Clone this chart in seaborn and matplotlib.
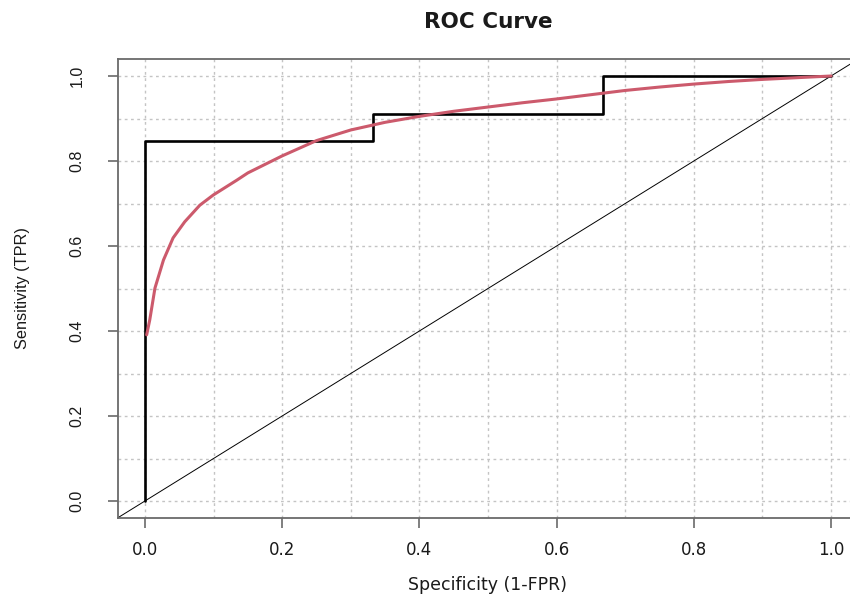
import matplotlib
matplotlib.use("Agg")
import matplotlib.pyplot as plt
import seaborn as sns
import pandas as pd

# Empirical ROC (step curve)
emp_fpr = [0.0, 0.0, 0.333, 0.333, 0.667, 0.667, 1.0]
emp_tpr = [0.0, 0.846, 0.846, 0.910, 0.910, 1.0, 1.0]

# Smoothed ROC curve
smooth_fpr = [0.0025, 0.007, 0.0146, 0.027, 0.041, 0.058, 0.080, 0.0996, 0.134,
              0.15, 0.2, 0.25, 0.3, 0.35, 0.4, 0.45, 0.5, 0.55, 0.6, 0.65,
              0.7, 0.75, 0.8, 0.85, 0.9, 0.95, 1.0]
smooth_tpr = [0.391, 0.426, 0.501, 0.567, 0.619, 0.657, 0.696, 0.720, 0.755,
              0.772, 0.812, 0.848, 0.873, 0.891, 0.905, 0.917, 0.927, 0.937, 0.946, 0.956,
              0.966, 0.974, 0.981, 0.987, 0.992, 0.996, 1.0]

tick_vals = [0.0, 0.2, 0.4, 0.6, 0.8, 1.0]
tick_labels = ["0.0", "0.2", "0.4", "0.6", "0.8", "1.0"]
grid_vals = [i / 10 for i in range(11)]

sns.set_style("white")
plt.rcParams['font.family'] = ['DejaVu Sans']

fig = plt.figure(figsize=(8.5, 5.96), dpi=100)
ax = fig.add_axes([117.5 / 850, 78 / 596, (858.5 - 117.5) / 850, (518 - 59) / 596])

df_emp = pd.DataFrame({"fpr": emp_fpr, "tpr": emp_tpr})
df_sm = pd.DataFrame({"fpr": smooth_fpr, "tpr": smooth_tpr})

# grid
for g in grid_vals:
    ax.axvline(g, color="#c4c4c4", lw=1.0, ls=(0, (2, 2.5)), zorder=0)
    ax.axhline(g, color="#c4c4c4", lw=1.0, ls=(0, (2, 2.5)), zorder=0)

ax.axline((0, 0), (1, 1), color="black", lw=0.7, zorder=1)
sns.lineplot(data=df_emp, x="fpr", y="tpr", sort=False, estimator=None,
             color="black", lw=1.9, ax=ax, zorder=2)
sns.lineplot(data=df_sm, x="fpr", y="tpr", sort=False, estimator=None,
             color="#cc5a6c", lw=2.2, ax=ax, zorder=3)

ax.set_xlim(-0.04, 1.04)
ax.set_ylim(-0.04, 1.04)
ax.set_xticks(tick_vals)
ax.set_xticklabels(tick_labels, fontfamily="DejaVu Sans", fontsize=12)
ax.set_yticks(tick_vals)
ax.set_yticklabels(tick_labels, rotation=90, va="center",
                   fontfamily="Liberation Sans", fontsize=11.5)

for s in ax.spines.values():
    s.set_color("#6a6a6a")
    s.set_linewidth(1.3)

ax.tick_params(axis="x", length=7.5, width=1.2, color="#6a6a6a", pad=9,
               labelcolor="#1a1a1a", bottom=True)
ax.tick_params(axis="y", length=7.5, width=1.2, color="#6a6a6a", pad=16,
               labelcolor="#1a1a1a", left=True)

ax.set_xlabel("Specificity (1-FPR)", fontsize=12.5, fontfamily="DejaVu Sans",
              color="#1a1a1a", labelpad=12)
ax.set_ylabel("Sensitivity (TPR)", fontsize=11.7, fontfamily="Liberation Sans",
              color="#1a1a1a", labelpad=29)
ax.set_title("ROC Curve", fontsize=15.5, fontweight="bold", fontfamily="DejaVu Sans",
             color="#1a1a1a", pad=22)

fig.savefig("out.png", dpi=100)
